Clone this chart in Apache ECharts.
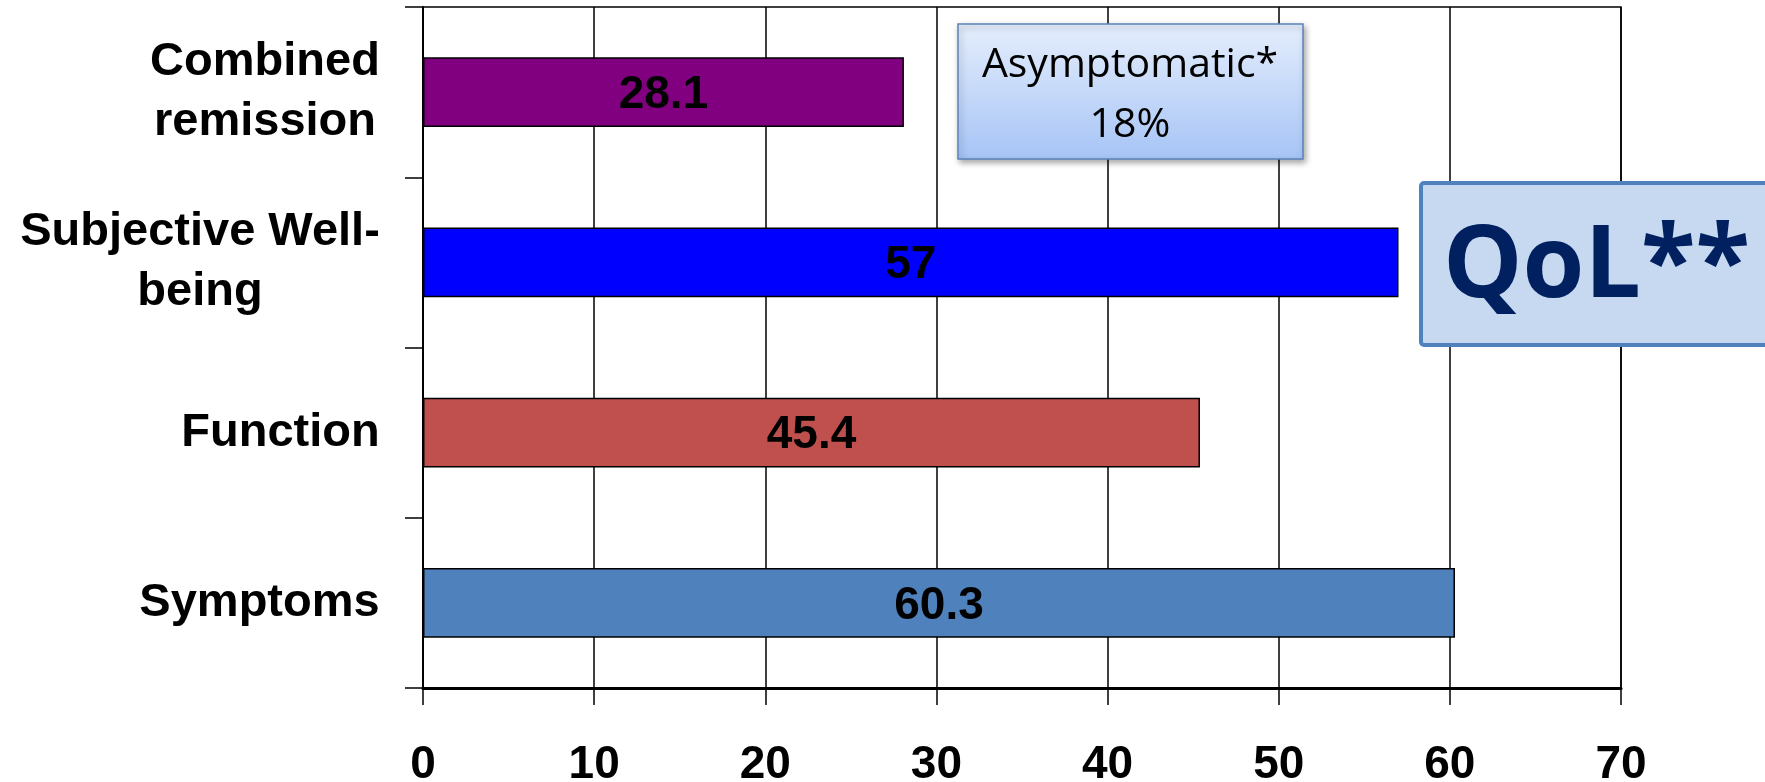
<!DOCTYPE html>
<html>
<head>
<meta charset="utf-8">
<script src="https://cdn.jsdelivr.net/npm/echarts@6/dist/echarts.min.js"></script>
<style>
html,body{margin:0;padding:0;background:#fff;}
#chart{width:1765px;height:782px;}
</style>
</head>
<body>
<div id="chart"></div>
<script>
// ---- data ----
const categories = ['Combined\nremission', 'Subjective Well-\nbeing', 'Function', 'Symptoms'];
const values = [28.1, 57, 45.4, 60.3];
const barColors = ['#800080', '#0000FF', '#C0504D', '#4F81BD'];
const xTicks = [0, 10, 20, 30, 40, 50, 60, 70];
const noteText = ['Asymptomatic*', '18%'];
const qolText = 'QoL**';

// ---- measuring for centered multi-line category labels ----
const CAT_FONT = 'bold 47px "Liberation Sans", Arial, sans-serif';
const ctx = document.createElement('canvas').getContext('2d');
ctx.font = CAT_FONT;
const rich = {};
categories.forEach((c, i) => {
  const w = Math.max(...c.split('\n').map(l => ctx.measureText(l).width));
  rich['c' + i] = {
    width: Math.ceil(w), align: 'center',
    fontSize: 47, fontWeight: 'bold', fontFamily: '"Liberation Sans", Arial, sans-serif',
    color: '#000', lineHeight: 60
  };
});

const chart = echarts.init(document.getElementById('chart'), null, {renderer: 'canvas'});
chart.setOption({
  animation: false,
  backgroundColor: '#fff',
  grid: {left: 423, right: 144, top: 7, bottom: 94, containLabel: false, outerBoundsMode: 'none',
         show: true, borderColor: '#000', borderWidth: 1.5, backgroundColor: 'transparent'},
  xAxis: {
    type: 'value', min: xTicks[0], max: xTicks[xTicks.length - 1], interval: 10,
    axisLine: {show: true, lineStyle: {color: '#000', width: 3}},
    axisTick: {show: true, length: 17, lineStyle: {color: '#000', width: 1.5}},
    splitLine: {show: true, lineStyle: {color: '#000', width: 1.5}},
    axisLabel: {color: '#000', fontSize: 46, fontWeight: 'bold', fontFamily: '"Liberation Sans", Arial, sans-serif', margin: 54}
  },
  yAxis: {
    type: 'category', inverse: true, data: categories,
    axisLine: {show: true, lineStyle: {color: '#000', width: 2}},
    axisTick: {show: true, length: 18, lineStyle: {color: '#000', width: 1.5}},
    splitLine: {show: false},
    axisLabel: {
      margin: 43, align: 'right',
      formatter: (v) => {
        const i = categories.indexOf(v);
        return v.split('\n').map(l => '{c' + i + '|' + l + '}').join('\n');
      },
      rich: rich
    }
  },
  series: [{
    type: 'bar',
    data: values.map((v, i) => ({value: v, itemStyle: {color: barColors[i]}})),
    barWidth: '41%',
    itemStyle: {borderColor: '#000', borderWidth: 1.5},
    label: {
      show: true, position: 'inside', color: '#000', fontSize: 46, fontWeight: 'bold',
      fontFamily: '"Liberation Sans", Arial, sans-serif', offset: [0, 3]
    }
  }],
  graphic: [
    {
      type: 'rect', z: 100,
      shape: {x: 958, y: 24, width: 345, height: 135},
      style: {
        fill: new echarts.graphic.LinearGradient(0, 0, 0, 1, [
          {offset: 0, color: '#e5eefc'}, {offset: 1, color: '#a6c4f6'}
        ]),
        stroke: '#5b84b8', lineWidth: 1.5,
        shadowBlur: 6, shadowOffsetX: 2, shadowOffsetY: 3, shadowColor: 'rgba(0,0,0,0.35)'
      }
    },
    {
      type: 'text', z: 101, x: 1130, y: 95,
      style: {
        text: noteText.join('\n'), align: 'center', verticalAlign: 'middle',
        font: '41px "Open Sans", "Noto Sans", sans-serif', lineHeight: 60, fill: '#000'
      }
    },
    {
      type: 'rect', z: 100,
      shape: {x: 1421, y: 183, width: 400, height: 162, r: 3},
      style: {fill: '#c6d9f1', stroke: '#4f81bd', lineWidth: 4}
    },
    {
      type: 'text', z: 101, x: 1443, y: 269,
      style: {
        text: qolText, align: 'left', verticalAlign: 'middle',
        font: 'bold 100px "Open Sans", "Noto Sans", sans-serif', fill: '#002060'
      }
    }
  ]
});
</script>
</body>
</html>
